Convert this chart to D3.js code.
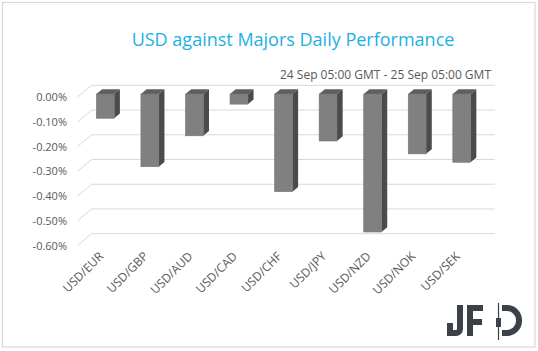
<!DOCTYPE html>
<html><head><meta charset="utf-8">
<script src="https://cdn.jsdelivr.net/npm/d3@7/dist/d3.min.js"></script>
<style>body{margin:0;background:#fff}svg{display:block}text{font-family:"Open Sans",sans-serif}</style>
</head><body><svg id="c" width="538" height="351"></svg>
<script>
const categories = ["USD/EUR","USD/GBP","USD/AUD","USD/CAD","USD/CHF","USD/JPY","USD/NZD","USD/NOK","USD/SEK"];
const values = [-0.098, -0.294, -0.169, -0.041, -0.395, -0.19, -0.558, -0.242, -0.276];
const yTicks = [0, -0.1, -0.2, -0.3, -0.4, -0.5, -0.6];
const titleText = "USD against Majors Daily Performance";
const subtitleText = "24 Sep 05:00 GMT - 25 Sep 05:00 GMT";

const svg = d3.select("#c");
svg.append("rect").attr("x",2.5).attr("y",2.5).attr("width",532.5).attr("height",344.5)
  .attr("fill","#fff").attr("stroke","#d9d9d9").attr("stroke-width",1.2);

const y = d3.scaleLinear().domain([-0.6, 0]).range([242.4, 94]);
const x = d3.scaleBand().domain(categories).range([83, 484]).paddingInner(0.6).paddingOuter(0.3);

// gridlines (back wall + left wall diagonal)
const backDy = -8.7, backX0 = 91.7, backX1 = 495, frontX = 77.3, frontDy = 3.3;
const g = svg.append("g");
yTicks.forEach(t => {
  const yb = y(t) + backDy, yf = y(t) + frontDy;
  g.append("line").attr("x1",backX0).attr("x2",backX1).attr("y1",yb).attr("y2",yb)
    .attr("stroke","#d9d9d9").attr("stroke-width",1);
  g.append("line").attr("x1",frontX).attr("x2",backX0).attr("y1",yf).attr("y2",yb)
    .attr("stroke","#d9d9d9").attr("stroke-width",1);
  g.append("text").attr("x",67).attr("y",yf).attr("dy","0.35em").attr("text-anchor","end")
    .attr("font-size",11).attr("fill","#595959").text(d3.format(".2%")(t/100).replace("−","-"));
});

// bars
const dx = 5.7, dy = 4.7, w = x.bandwidth();
const bars = svg.append("g").selectAll("g").data(categories).join("g");
bars.each(function(c, i) {
  const sel = d3.select(this);
  const x0 = x(c), y0 = y(0), y1 = y(values[i]);
  sel.append("path").attr("d", `M${x0},${y0}L${x0+dx},${y0-dy}L${x0+w+dx},${y0-dy}L${x0+w},${y0}Z`).attr("fill","#5f5f5f");
  sel.append("path").attr("d", `M${x0+w},${y0}L${x0+w+dx},${y0-dy}L${x0+w+dx},${y1-dy}L${x0+w},${y1}Z`).attr("fill","#4b4b4b");
  sel.append("rect").attr("x",x0).attr("y",y0).attr("width",w).attr("height",y1-y0)
    .attr("fill","#808080").attr("stroke","#767676").attr("stroke-width",0.6);
});

// category labels
svg.append("g").selectAll("text").data(categories).join("text")
  .attr("transform", d => `translate(${x(d)+x.bandwidth()/2-1},257) rotate(-45)`)
  .attr("text-anchor","end").attr("font-size",12).attr("fill","#595959").text(d => d);

// titles
svg.append("text").attr("x",293).attr("y",46).attr("text-anchor","middle")
  .attr("font-size",18).attr("fill","#1cb0e4").text(titleText);
svg.append("text").attr("x",491).attr("y",79).attr("text-anchor","end")
  .attr("font-size",12).attr("fill","#595959").text(subtitleText);

// JFD logo
const lg = svg.append("g").attr("stroke","#3b4049").attr("fill","none").attr("stroke-width",6);
lg.append("path").attr("d","M460,305V329A4,4 0 0 1 456,333H450V323");
lg.append("path").attr("d","M470,305V336M470,308H483M470,322H482");
lg.append("path").attr("d","M502,308H507A12,12 0 0 1 519,320V321A12,12 0 0 1 507,333H502");
svg.append("line").attr("x1",498.5).attr("x2",498.5).attr("y1",303).attr("y2",340).attr("stroke","#3b4049").attr("stroke-width",1.2);
svg.append("rect").attr("x",496).attr("y",318).attr("width",5).attr("height",9).attr("fill","#3b4049");
</script></body></html>
